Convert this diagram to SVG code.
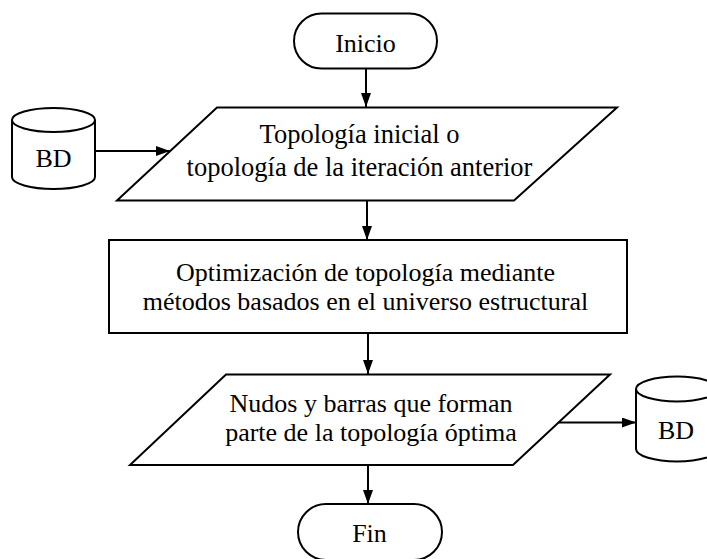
<svg xmlns="http://www.w3.org/2000/svg" width="707" height="559" viewBox="0 0 707 559">
<style>
.s{fill:#fff;stroke:#000;stroke-width:2}
.c{fill:none;stroke:#000;stroke-width:2}
text{font-family:"Liberation Serif","Times New Roman",Times,serif;font-size:26px;fill:#000;text-anchor:middle}
</style>
<defs>
<marker id="ah" markerWidth="14" markerHeight="10" refX="14" refY="5" orient="auto" markerUnits="userSpaceOnUse">
<path d="M0,0 L14,5 L0,10 Z" fill="#000"/>
</marker>
</defs>
<rect width="707" height="559" fill="#fff"/>
<g id="connectors">
<line class="c" x1="366" y1="69" x2="366" y2="107" marker-end="url(#ah)"/>
<line class="c" x1="95" y1="151" x2="170" y2="151" marker-end="url(#ah)"/>
<line class="c" x1="367" y1="201" x2="367" y2="240" marker-end="url(#ah)"/>
<line class="c" x1="368" y1="333" x2="368" y2="374" marker-end="url(#ah)"/>
<line class="c" x1="558" y1="422.5" x2="636" y2="422.5" marker-end="url(#ah)"/>
<line class="c" x1="368" y1="465" x2="368" y2="504" marker-end="url(#ah)"/>
</g>
<g id="inicio">
<rect class="s" x="294" y="13.5" width="143" height="55" rx="27.5"/>
<text x="365.5" y="51.5">Inicio</text>
</g>
<g id="bd1">
<path class="s" d="M12,120 A41.5,12 0 0,1 95,120 L95,177 A41.5,12 0 0,1 12,177 Z"/>
<path class="c" d="M12,120 A41.5,12 0 0,0 95,120"/>
<text x="53.5" y="166.5">BD</text>
</g>
<g id="entrada">
<polygon class="s" points="217,107.5 617,107.5 514,200.5 117,200.5"/>
<text x="359.5" y="143" style="font-size:26.5px">Topología inicial o</text>
<text x="359.5" y="175.5" style="font-size:26.5px">topología de la iteración anterior</text>
</g>
<g id="optimizacion">
<rect class="s" x="109" y="240" width="518" height="93"/>
<text x="365.5" y="280.5">Optimización de topología mediante</text>
<text x="365.5" y="310">métodos basados en el universo estructural</text>
</g>
<g id="salida">
<polygon class="s" points="226,374.5 610,374.5 513,465 130,465"/>
<text x="371" y="412">Nudos y barras que forman</text>
<text x="371" y="441">parte de la topología óptima</text>
</g>
<g id="bd2">
<path class="s" d="M636,389 A41,12.5 0 0,1 718,389 L718,449 A41,12.5 0 0,1 636,449 Z"/>
<path class="c" d="M636,389 A41,12.5 0 0,0 718,389"/>
<text x="676" y="439">BD</text>
</g>
<g id="fin">
<rect class="s" x="298" y="504" width="144" height="56" rx="28"/>
<text x="369.5" y="541.5">Fin</text>
</g>
</svg>
